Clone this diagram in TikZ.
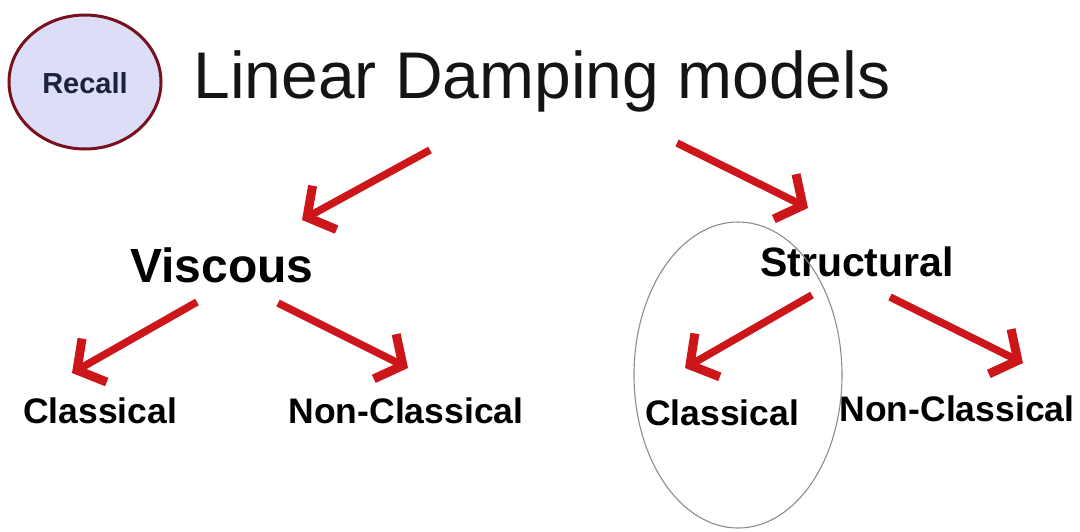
\documentclass[tikz,border=0pt]{standalone}
\usepackage{fontspec}
\setmainfont{Liberation Sans}
\usetikzlibrary{shapes.geometric,arrows.meta,positioning,calc}

\definecolor{arrred}{RGB}{204,22,26}
\definecolor{recallrim}{RGB}{120,16,30}
\definecolor{recallfill}{RGB}{220,222,248}
\definecolor{recallink}{RGB}{28,34,56}

\begin{document}
\begin{tikzpicture}[
  x=1pt, y=-1pt,
  title/.style={anchor=base, inner sep=0pt, font=\fontsize{66}{70}\selectfont, text=black!92},
  branch/.style={anchor=base, inner sep=0pt, font=\bfseries},
  leaf/.style={anchor=base, inner sep=0pt, font=\fontsize{35.5}{38}\selectfont\bfseries},
  badge/.style={ellipse, draw=recallrim, fill=recallfill, line width=3pt,
                minimum width=152pt, minimum height=134pt, inner sep=0pt,
                text=recallink, font=\fontsize{28}{30}\selectfont\bfseries},
  arr/.style={draw=arrred, line width=7.5pt,
              -{Straight Barb[length=20pt,width=50pt,line width=9pt]}},
  ring/.style={draw=black!45, line width=1.1pt},
]
\useasboundingbox (0,0) rectangle (1080,531);

% --- heading ---
\node[badge] (recall) at (85,82) {};
\node[anchor=base, inner sep=0pt, text=recallink,
      font=\fontsize{29}{30}\selectfont\bfseries] (recalltxt) at (85,93) {Recall};
\node[title] (models) at (542,98) {Linear Damping models};

% --- the two families ---
\node[branch, font=\fontsize{48}{50}\selectfont\bfseries] (visc) at (222,282) {Viscous};
\node[branch, font=\fontsize{41}{44}\selectfont\bfseries] (struct) at (857,276) {Structural};

% --- leaves ---
\node[leaf] (vclass) at (100,423) {Classical};
\node[leaf] (vnon) at (406,423) {Non-Classical};
\node[leaf] (sclass) at (722,425) {Classical};
\node[leaf] (snon) at (957,421) {Non-Classical};

% --- arrow ends ---
\coordinate (m-l) at (430,150);
\coordinate (m-r) at (677,143);
\coordinate (v-top) at (302,220);
\coordinate (s-top) at (808,208);
\coordinate (v-l) at (197,302);
\coordinate (v-r) at (278,303);
\coordinate (vc-top) at (72,373);
\coordinate (vn-top) at (408,368);
\coordinate (s-l) at (812,295);
\coordinate (s-r) at (890,297);
\coordinate (sc-top) at (685,368);
\coordinate (sn-top) at (1023,363);

\draw[arr] (m-l) -- (v-top);
\draw[arr] (m-r) -- (s-top);
\draw[arr] (v-l) -- (vc-top);
\draw[arr] (v-r) -- (vn-top);
\draw[arr] (s-l) -- (sc-top);
\draw[arr] (s-r) -- (sn-top);

% --- highlight round the structural classical case ---
\draw[ring] (738,375) ellipse [x radius=104pt, y radius=153pt];

\end{tikzpicture}
\end{document}
